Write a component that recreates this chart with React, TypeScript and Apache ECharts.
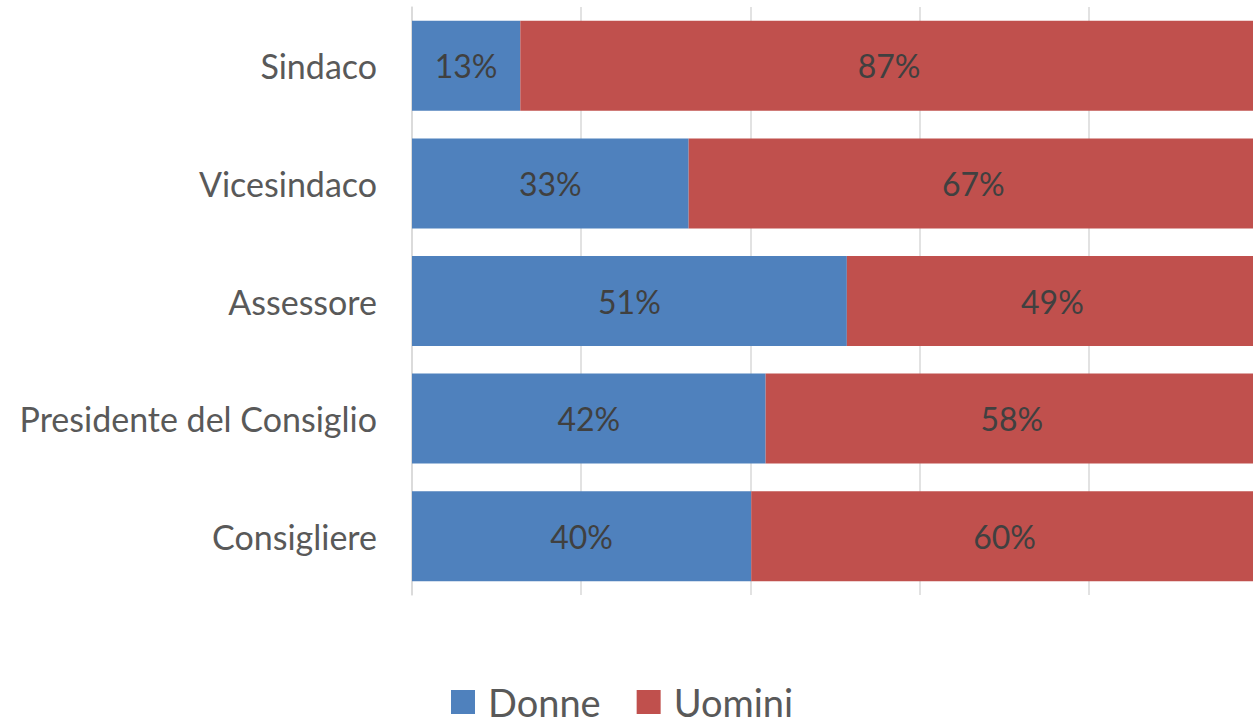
import React, { useEffect, useRef } from "react";
import * as echarts from "echarts";

const categories = ["Sindaco", "Vicesindaco", "Assessore", "Presidente del Consiglio", "Consigliere"];
const donne = [12.8, 32.7, 51.4, 41.8, 40.1];
const uomini = [87.2, 67.3, 48.6, 58.2, 59.9];
const seriesNames = ["Donne", "Uomini"];
const FONT = "Lato, 'Open Sans', sans-serif";

export default function App() {
  const ref = useRef<HTMLDivElement>(null);
  useEffect(() => {
    document.body.style.margin = "0";
    const chart = echarts.init(ref.current!, undefined, { renderer: "svg" });
    const label = {
      show: true,
      position: "inside",
      color: "#404040",
      fontSize: 32,
      fontFamily: FONT,
      formatter: (p: any) => Math.round(p.value) + "%",
    };
    chart.setOption({
      animation: false,
      textStyle: { fontFamily: FONT },
      grid: { left: 412, top: 7, width: 846, height: 588, containLabel: false, outerBoundsMode: "none" },
      legend: {
        data: seriesNames,
        top: 683,
        left: 451,
        padding: 0,
        itemWidth: 24,
        itemHeight: 24,
        itemGap: 36,
        icon: "rect",
        textStyle: { color: "#595959", fontSize: 38, lineHeight: 38, fontFamily: FONT, padding: [0, 0, 0, 8] },
      },
      xAxis: {
        type: "value",
        min: 0,
        max: 100,
        interval: 20,
        axisLabel: { show: false },
        axisLine: { show: false },
        axisTick: { show: false },
        splitLine: { show: true, lineStyle: { color: "#d9d9d9", width: 1.5 } },
      },
      yAxis: {
        type: "category",
        data: categories,
        inverse: true,
        axisLine: { show: true, lineStyle: { color: "#d9d9d9", width: 1.5 } },
        axisTick: { show: false },
        axisLabel: { color: "#595959", fontSize: 34, fontFamily: FONT, margin: 35 },
      },
      series: [
        {
          name: seriesNames[0],
          type: "bar",
          stack: "total",
          data: donne,
          barWidth: 90,
          itemStyle: { color: "#4F81BD" },
          label,
        },
        {
          name: seriesNames[1],
          type: "bar",
          stack: "total",
          data: uomini,
          barWidth: 90,
          itemStyle: { color: "#C0504D" },
          label,
        },
      ],
    });
    return () => chart.dispose();
  }, []);
  return <div ref={ref} style={{ width: 1253, height: 722 }} />;
}
